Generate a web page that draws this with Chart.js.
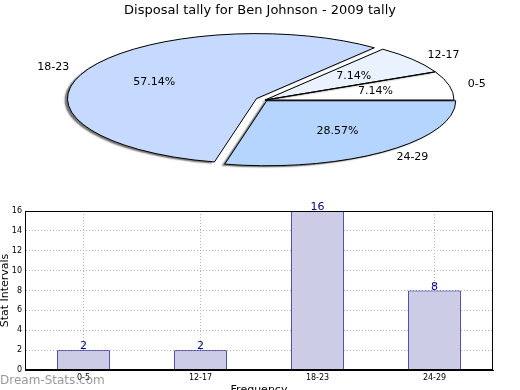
<!DOCTYPE html>
<html>
<head>
<meta charset="utf-8">
<script src="https://cdn.jsdelivr.net/npm/chart.js@4.4.0/dist/chart.umd.min.js"></script>
<style>
  body { margin: 0; background: #fff; }
  #wrap { position: relative; width: 520px; height: 390px; overflow: hidden; }
  canvas { position: absolute; left: 0; }
  #pie { top: 0; }
  #bars { top: 195px; }
</style>
</head>
<body>
<div id="wrap">
  <canvas id="pie" width="520" height="195"></canvas>
  <canvas id="bars" width="520" height="195"></canvas>
</div>
<script>
// Data
const intervals = ["0-5", "12-17", "18-23", "24-29"];
const tally = [2, 2, 16, 8];
const yTicks = [0, 2, 4, 6, 8, 10, 12, 14, 16];
const chartTitle = "Disposal tally for Ben Johnson - 2009 tally";

// Style
const sliceColors = ["#ffffff", "#eaf1ff", "#c6d9ff", "#b5d5ff"];
const explode = [0, 0, 0.05, 0.015];
const pieBox = { cx: 265, cy: 100, rx: 189, ry: 65 };
const font = "DejaVu Sans";

const total = tally.reduce((a, b) => a + b, 0);

// map pie (circle) coordinates onto a flattened, y-flipped ellipse
function toEllipse(ctx, o) {
  ctx.translate(pieBox.cx, pieBox.cy);
  ctx.scale(pieBox.rx / o.r, -pieBox.ry / o.r);
  ctx.translate(-o.x, -o.y);
}

const ellipsePie = {
  id: "ellipsePie",
  afterDatasetUpdate(chart) {
    const arcs = chart.getDatasetMeta(0).data;
    chart.$origin = { x: arcs[0].x, y: arcs[0].y, r: arcs[0].outerRadius };
    arcs.forEach((a, i) => {
      const mid = (a.startAngle + a.endAngle) / 2;
      const d = explode[i] * a.outerRadius;
      a.x += d * Math.cos(mid);
      a.y += d * Math.sin(mid);
    });
  },
  beforeDatasetsDraw(chart) {
    const ctx = chart.ctx;
    ctx.save();
    ctx.shadowColor = "rgba(0,0,0,0.55)";
    ctx.shadowBlur = 1.5;
    ctx.shadowOffsetX = -3;
    ctx.shadowOffsetY = 1.5;
    toEllipse(ctx, chart.$origin);
  },
  afterDatasetsDraw(chart) {
    const ctx = chart.ctx, o = chart.$origin;
    ctx.restore();
    const arcs = chart.getDatasetMeta(0).data;

    // outlines, built in ellipse space but stroked at 1px
    arcs.forEach(a => {
      ctx.save();
      toEllipse(ctx, o);
      ctx.beginPath();
      ctx.moveTo(a.x, a.y);
      ctx.arc(a.x, a.y, a.outerRadius, a.startAngle, a.endAngle);
      ctx.closePath();
      ctx.restore();
      ctx.lineWidth = 1;
      ctx.strokeStyle = "#000";
      ctx.stroke();
    });

    // labels
    ctx.save();
    ctx.fillStyle = "#000";
    ctx.textBaseline = "middle";
    ctx.font = "11px '" + font + "'";
    arcs.forEach((a, i) => {
      const mid = (a.startAngle + a.endAngle) / 2;
      const c = Math.cos(mid), s = Math.sin(mid);
      const at = k => ({
        x: pieBox.cx + (a.x + k * a.outerRadius * c - o.x) * pieBox.rx / o.r,
        y: pieBox.cy - (a.y + k * a.outerRadius * s - o.y) * pieBox.ry / o.r
      });
      const lp = at(1.1);
      ctx.textAlign = c > 0 ? "left" : "right";
      ctx.fillText(intervals[i], lp.x, lp.y);
      const pp = at(0.6);
      ctx.textAlign = "center";
      ctx.fillText((tally[i] / total * 100).toFixed(2) + "%", pp.x, pp.y);
    });
    ctx.restore();
  }
};

new Chart(document.getElementById("pie"), {
  type: "pie",
  data: {
    labels: intervals,
    datasets: [{
      data: tally,
      backgroundColor: sliceColors,
      borderWidth: 0,
      hoverOffset: 0,
      clip: false
    }]
  },
  options: {
    responsive: false,
    animation: false,
    devicePixelRatio: 1,
    rotation: 90,
    events: [],
    plugins: {
      legend: { display: false },
      tooltip: { enabled: false },
      title: {
        display: true,
        text: chartTitle,
        color: "#000",
        font: { family: font, size: 13, weight: "normal" },
        padding: { top: 3, bottom: 4 }
      }
    }
  },
  plugins: [ellipsePie]
});

// Bar chart
const barExtras = {
  id: "barExtras",
  afterDatasetsDraw(chart) {
    const ctx = chart.ctx, a = chart.chartArea;
    ctx.save();
    ctx.strokeStyle = "#000";
    ctx.lineWidth = 1;
    ctx.strokeRect(Math.round(a.left) + 0.5, Math.round(a.top) + 0.5,
      Math.round(a.right - a.left) - 1, Math.round(a.bottom - a.top) - 1);
    ctx.font = "11px '" + font + "'";
    ctx.fillStyle = "#00008b";
    ctx.textAlign = "center";
    ctx.textBaseline = "alphabetic";
    chart.getDatasetMeta(0).data.forEach((b, i) => ctx.fillText(tally[i], b.x, b.y - 1));
    ctx.restore();
  },
  afterDraw(chart) {
    const ctx = chart.ctx;
    ctx.save();
    ctx.font = "12px '" + font + "'";
    ctx.fillStyle = "rgba(128,128,128,0.8)";
    ctx.textAlign = "left";
    ctx.textBaseline = "middle";
    ctx.fillText("Dream-Stats.com", 0, 186);
    ctx.restore();
  }
};

new Chart(document.getElementById("bars"), {
  type: "bar",
  data: {
    labels: intervals,
    datasets: [{
      data: tally,
      backgroundColor: "#cccce6",
      borderColor: "#00008b",
      borderWidth: 1,
      barPercentage: 0.9,
      categoryPercentage: 0.5
    }]
  },
  options: {
    responsive: false,
    animation: false,
    devicePixelRatio: 1,
    events: [],
    layout: { padding: { top: 16, right: 27, left: 0, bottom: 0 } },
    plugins: { legend: { display: false }, tooltip: { enabled: false } },
    scales: {
      x: {
        afterFit: s => { s.height = 20; },
        ticks: { font: { family: font, size: 8 }, color: "#000", padding: 3 },
        grid: { color: "#b4b4b4", drawTicks: false, offset: false },
        border: { display: true, color: "#000", dash: [1, 2] },
        title: {
          display: true, text: "Frequency", color: "#000",
          font: { family: font, size: 11 }, padding: { top: 0, bottom: -7 }
        }
      },
      y: {
        min: yTicks[0],
        max: yTicks[yTicks.length - 1],
        afterFit: s => { s.width = 25; },
        ticks: { stepSize: yTicks[1] - yTicks[0], font: { family: font, size: 8 }, color: "#000", padding: 3 },
        grid: { color: "#b4b4b4", drawTicks: false },
        border: { display: true, color: "#000", dash: [1, 2] },
        title: {
          display: true, text: "Stat Intervals", color: "#000",
          font: { family: font, size: 11 }, padding: { top: -1, bottom: 0 }
        }
      }
    }
  },
  plugins: [barExtras]
});
</script>
</body>
</html>
